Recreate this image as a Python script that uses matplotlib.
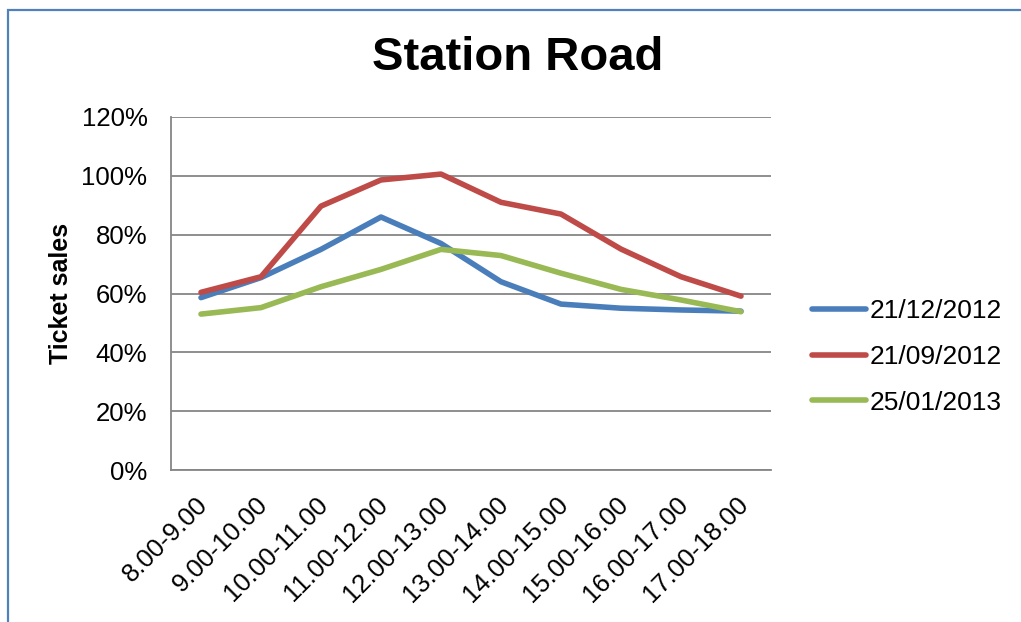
import matplotlib
matplotlib.use("Agg")
import matplotlib.pyplot as plt
from matplotlib.patches import Rectangle
from matplotlib.ticker import FuncFormatter
from matplotlib.transforms import ScaledTranslation

# Hourly ticket sales at Station Road, as share of the reference level
time_slots = ["8.00-9.00", "9.00-10.00", "10.00-11.00", "11.00-12.00", "12.00-13.00",
              "13.00-14.00", "14.00-15.00", "15.00-16.00", "16.00-17.00", "17.00-18.00"]
sales_2012_12_21 = [0.586, 0.654, 0.750, 0.860, 0.770, 0.640, 0.564, 0.550, 0.544, 0.540]
sales_2012_09_21 = [0.604, 0.657, 0.897, 0.986, 1.006, 0.910, 0.870, 0.751, 0.657, 0.591]
sales_2013_01_25 = [0.530, 0.552, 0.623, 0.682, 0.750, 0.729, 0.669, 0.614, 0.578, 0.538]
series_labels = ["21/12/2012", "21/09/2012", "25/01/2013"]
y_ticks = [0, 0.2, 0.4, 0.6, 0.8, 1.0, 1.2]

colors = ["#4A7EBB", "#BE4B48", "#98B954"]
font = ["Liberation Sans", "DejaVu Sans"]
plt.rcParams["font.family"] = font

W, H = 1021, 622
fig = plt.figure(figsize=(W / 100, H / 100), dpi=100)
fig.patch.set_facecolor("white")

# outer chart frame (left and top edges visible)
fig.patches.append(Rectangle((8 / W, -0.1), 1.2, 1.1 - 10 / H,
                             transform=fig.transFigure, fill=False,
                             edgecolor="#4F81BD", linewidth=1.6, zorder=10))

ax = fig.add_axes([171 / W, 1 - 470 / H, 600 / W, 353 / H])
x = list(range(len(time_slots)))
for vals, lab, c in zip([sales_2012_12_21, sales_2012_09_21, sales_2013_01_25], series_labels, colors):
    ax.plot(x, vals, color=c, linewidth=4.0, label=lab, solid_capstyle="round",
            solid_joinstyle="round", zorder=3)

ax.set_xlim(-0.5, len(time_slots) - 0.5)
ax.set_ylim(0, 1.2)
ax.set_yticks(y_ticks)
ax.yaxis.set_major_formatter(FuncFormatter(lambda v, p: f"{round(v * 100)}%"))
ax.grid(axis="y", color="#868686", linewidth=1.3)
ax.set_axisbelow(True)
for s in ["top", "right"]:
    ax.spines[s].set_visible(False)
for s in ["left", "bottom"]:
    ax.spines[s].set_color("#868686")
    ax.spines[s].set_linewidth(1.3)

ax.set_xticks(x)
ax.set_xticklabels(time_slots, rotation=45, ha="right", va="top", rotation_mode="anchor")
ax.tick_params(axis="both", length=0, labelsize=18.5)
ax.tick_params(axis="y", pad=17)
ax.tick_params(axis="x", pad=16)
shift = ScaledTranslation(-5 / 100, 0, fig.dpi_scale_trans)
for lbl in ax.get_xticklabels():
    lbl.set_transform(lbl.get_transform() + shift)

fig.text(61 / W, 1 - 293 / H, "Ticket sales", rotation=90, fontsize=18, fontweight="bold",
         ha="center", va="center")
fig.text(518 / W, 1 - 58 / H, "Station Road", fontsize=34, fontweight="bold",
         ha="center", va="center")

fig.legend(loc="center left", bbox_to_anchor=(812 / W, 1 - 357 / H), frameon=False,
           fontsize=19, handlelength=2.05, handletextpad=0.15, labelspacing=0.82,
           borderpad=0, borderaxespad=0)

fig.savefig("out.png", dpi=100)
